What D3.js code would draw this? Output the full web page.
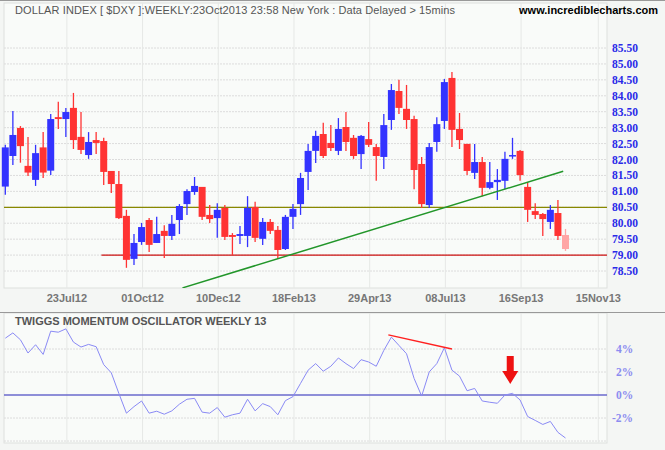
<!DOCTYPE html>
<html><head><meta charset="utf-8">
<script src="https://cdn.jsdelivr.net/npm/d3@7/dist/d3.min.js"></script>
<style>body{margin:0;background:#f4f6f4}svg{display:block}</style>
</head><body><svg id="c" width="665" height="450"></svg>
<script>
const opens=[81.15,82.11,82.99,81.80,81.36,82.38,81.65,83.33,83.27,83.62,82.71,82.14,82.61,82.58,81.64,81.23,80.23,78.88,79.41,80.10,79.38,79.76,79.60,80.10,80.60,80.98,81.14,80.26,80.16,80.48,79.63,79.60,79.60,80.51,79.51,80.04,79.79,79.19,80.20,80.60,81.61,82.27,82.80,82.52,82.27,83.02,82.68,82.17,82.64,82.39,82.08,83.24,84.15,83.59,83.27,81.86,80.57,82.55,83.21,84.56,82.96,82.49,81.58,81.92,81.11,81.29,81.33,82.11,82.27,81.14,80.38,80.29,80.04,80.32,79.63];
const highs=[82.46,83.52,83.05,82.71,82.46,82.86,83.43,83.81,83.62,84.09,83.49,82.86,82.86,82.68,81.64,81.64,80.42,79.66,80.01,80.16,80.20,79.94,80.26,80.60,81.07,81.45,81.14,80.57,80.63,80.57,79.69,79.91,80.85,80.67,80.16,80.13,79.91,80.26,80.60,81.58,82.49,82.90,83.15,83.08,83.30,83.49,82.77,82.77,83.18,82.49,83.43,84.37,84.50,84.34,83.37,82.08,82.52,83.33,84.53,84.75,83.46,82.49,82.49,82.08,81.92,81.70,82.24,82.68,82.30,81.29,80.63,80.32,80.57,80.73,79.82];
const lows=[80.89,81.83,81.90,81.48,81.17,81.42,81.51,82.96,82.71,82.33,82.17,82.02,82.17,81.20,80.95,80.13,78.60,78.69,79.32,79.10,79.38,78.91,79.47,79.66,80.26,80.89,80.10,80.01,79.54,79.47,79.00,79.35,79.25,79.41,79.32,79.66,78.88,79.16,79.82,80.26,81.04,81.89,82.05,82.27,82.14,82.27,82.02,81.70,82.39,81.33,81.70,82.93,83.43,82.96,81.07,80.48,80.48,82.24,82.96,82.39,82.33,81.51,81.39,80.85,81.07,80.73,81.07,82.02,81.33,80.04,80.13,79.60,79.82,79.47,79.13];
const closes=[82.38,82.77,82.42,81.59,82.20,81.59,83.27,83.27,83.49,82.61,82.30,82.55,82.52,81.61,81.23,80.16,78.85,79.38,79.88,79.32,79.66,79.60,79.98,80.54,81.01,81.17,80.20,80.13,80.42,79.57,79.57,79.66,80.48,79.54,80.04,79.76,79.16,80.20,80.45,81.42,82.27,82.74,82.11,82.36,82.96,82.55,82.11,82.74,82.46,82.11,83.08,84.18,83.62,83.24,81.67,80.60,82.39,83.11,84.43,82.93,82.61,81.64,81.92,81.11,81.29,81.36,82.02,82.14,81.51,80.42,80.26,80.13,80.42,79.60,79.19];
const momentum=[4.94,5.40,4.80,3.65,4.37,3.53,5.55,5.46,5.75,4.60,4.17,4.40,4.20,2.64,1.93,0.14,-1.58,-1.01,-0.52,-1.58,-1.41,-1.67,-1.38,-0.80,-0.37,-0.29,-1.49,-1.58,-1.09,-1.93,-1.72,-1.58,-0.37,-1.38,-0.75,-1.01,-1.72,-0.49,-0.14,1.01,2.16,2.73,2.07,2.50,3.22,2.73,2.30,3.07,2.87,2.50,3.88,5.03,4.31,3.59,1.44,-0.09,2.01,2.73,4.11,2.16,1.64,0.37,0.57,-0.52,-0.63,-0.72,0.00,0.14,-0.43,-1.87,-2.21,-2.56,-2.30,-3.25,-3.74];
const priceTicks=[85.5,85,84.5,84,83.5,83,82.5,82,81.5,81,80.5,80,79.5,79,78.5];
const momTicks=[4,2,0,-2];
const dateLabels=["23Jul12","01Oct12","10Dec12","18Feb13","29Apr13","08Jul13","16Sep13","15Nov13"];
const dateIdx=[8,18,28,38,48,58,68,78.2];
const levelOlive=80.5, levelRed=79.0, redStartIdx=12.7;
const trend=[[23.4,77.97],[73.7,81.63]];
const divLine=[[50.6,5.23],[59.0,4.0]];
const arrowIdx=66.7;

const svg=d3.select("#c");
const L=4,R=607,T=3,B=288,MT=313,MB=443;
const x=d3.scaleLinear().domain([0,74]).range([5.3,565.5]);
const y=d3.scaleLinear().domain([78.5,85.5]).range([271,48]);
const ym=d3.scaleLinear().domain([-2,4]).range([418,349]);

svg.append("rect").attr("x",L).attr("y",T).attr("width",R-L).attr("height",B-T).attr("fill","#f9fbf9").attr("stroke","#dde0dd");
svg.append("rect").attr("x",L).attr("y",MT).attr("width",R-L).attr("height",MB-MT).attr("fill","#f9fbf9").attr("stroke","#dde0dd");
svg.append("line").attr("x1",0).attr("x2",665).attr("y1",312.5).attr("y2",312.5).attr("stroke","#999");
svg.append("line").attr("x1",0).attr("x2",665).attr("y1",0.5).attr("y2",0.5).attr("stroke","#999");

// grids
priceTicks.forEach(v=>svg.append("line").attr("x1",L).attr("x2",R).attr("y1",y(v)).attr("y2",y(v)).attr("stroke","#dcdcdc").attr("stroke-dasharray","2,1"));
[4,2,-2,-4].forEach(v=>svg.append("line").attr("x1",L).attr("x2",R).attr("y1",ym(v)).attr("y2",ym(v)).attr("stroke","#dcdcdc").attr("stroke-dasharray","2,1"));
dateIdx.forEach(i=>{
  svg.append("line").attr("x1",x(i)+1).attr("x2",x(i)+1).attr("y1",T).attr("y2",B).attr("stroke","#e6e8e6");
  svg.append("line").attr("x1",x(i)+1).attr("x2",x(i)+1).attr("y1",MT).attr("y2",MB).attr("stroke","#e6e8e6");
});
svg.selectAll(".dl").data(dateLabels).join("text").attr("x",(d,k)=>x(dateIdx[k])+1).attr("y",302)
  .attr("text-anchor","middle").attr("font-family","Liberation Sans, Arial").attr("font-weight","bold").attr("font-size",11).attr("fill","#777").text(d=>d);
svg.selectAll(".pl").data(priceTicks).join("text").attr("x",612).attr("y",v=>y(v)+4)
  .attr("font-family","Liberation Serif, serif").attr("font-weight","bold").attr("font-size",11.5).attr("fill","#2a2ae8").text(v=>v.toFixed(2));
svg.selectAll(".ml").data(momTicks).join("text").attr("x",v=>v<0?612:616).attr("y",v=>ym(v)+4)
  .attr("font-family","Liberation Serif, serif").attr("font-weight","bold").attr("font-size",11.5).attr("fill","#8c8cf0").text(v=>v+"%");

// levels
svg.append("line").attr("x1",L).attr("x2",R).attr("y1",y(levelOlive)).attr("y2",y(levelOlive)).attr("stroke","#888800").attr("stroke-width",1.3);
svg.append("line").attr("x1",x(redStartIdx)).attr("x2",R).attr("y1",y(levelRed)).attr("y2",y(levelRed)).attr("stroke","#cc1111").attr("stroke-width",1.3);

// candles
const g=svg.append("g");
opens.forEach((o,i)=>{
  const c=closes[i], up=c>=o, col=i===74?"#ffa6a6":(up?"#3333ff":"#ff3333");
  g.append("line").attr("x1",x(i)).attr("x2",x(i)).attr("y1",y(highs[i])).attr("y2",y(lows[i])).attr("stroke",col).attr("stroke-width",1.3);
  const top=y(Math.max(o,c)),bot=y(Math.min(o,c));
  g.append("rect").attr("x",x(i)-3.5).attr("y",top).attr("width",7).attr("height",Math.max(1.5,bot-top)).attr("fill",col);
});

// trend line clipped
svg.append("clipPath").attr("id","cp").append("rect").attr("x",L).attr("y",T).attr("width",R-L).attr("height",B-T);
svg.append("line").attr("clip-path","url(#cp)").attr("x1",x(trend[0][0])).attr("y1",y(trend[0][1])).attr("x2",x(trend[1][0])).attr("y2",y(trend[1][1])).attr("stroke","#22962a").attr("stroke-width",1.5);

// momentum
svg.append("line").attr("x1",L).attr("x2",R).attr("y1",ym(0)).attr("y2",ym(0)).attr("stroke","#6a6acc").attr("stroke-width",1.3);
svg.append("path").datum(momentum).attr("d",d3.line().x((d,i)=>x(i)).y(d=>ym(d))).attr("fill","none").attr("stroke","#8a8af5").attr("stroke-width",1);
svg.append("line").attr("x1",x(divLine[0][0])).attr("y1",ym(divLine[0][1])).attr("x2",x(divLine[1][0])).attr("y2",ym(divLine[1][1])).attr("stroke","#ff2020").attr("stroke-width",1.3);
const ax=x(arrowIdx);
svg.append("path").attr("d",`M${ax-3.5},356 L${ax+3.5},356 L${ax+3.5},371 L${ax+8},371 L${ax},384 L${ax-8},371 L${ax-3.5},371 Z`).attr("fill","#ee1111");

// titles
svg.append("text").attr("x",15).attr("y",14).attr("font-family","Liberation Sans, Arial").attr("font-size",11).attr("fill","#555").attr("textLength",440)
  .text("DOLLAR INDEX [ $DXY ]:WEEKLY:23Oct2013 23:58 New York : Data Delayed > 15mins");
svg.append("text").attr("x",658).attr("y",14).attr("text-anchor","end").attr("font-family","Liberation Sans, Arial").attr("font-weight","bold").attr("font-size",11).attr("fill","#000").text("www.incrediblecharts.com");
svg.append("text").attr("x",15).attr("y",325).attr("font-family","Liberation Sans, Arial").attr("font-weight","bold").attr("font-size",11).attr("fill","#555").text("TWIGGS MOMENTUM OSCILLATOR WEEKLY 13");
</script></body></html>
